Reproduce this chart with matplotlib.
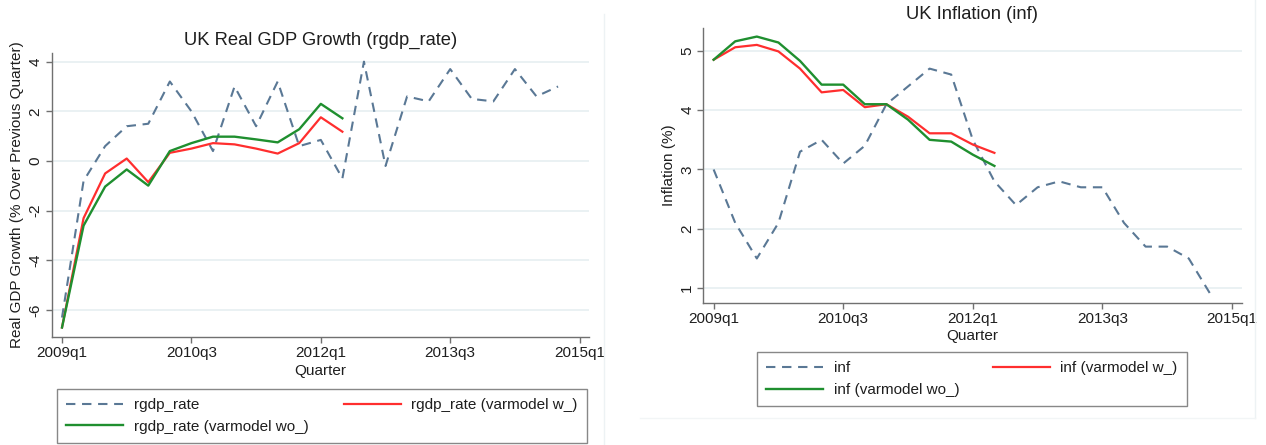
import numpy as np
import matplotlib.pyplot as plt
from matplotlib.lines import Line2D

plt.rcParams['font.family'] = ['Liberation Sans', 'DejaVu Sans']
plt.rcParams['axes.unicode_minus'] = False

# quarter index: 0 = 2009q1
tick_pos = [0, 6, 12, 18, 24]
tick_labels = ['2009q1', '2010q3', '2012q1', '2013q3', '2015q1']

rgdp_rate = [-6.3, -0.8, 0.6, 1.4, 1.5, 3.2, 2.0, 0.4, 3.0, 1.4, 3.2, 0.6,
             0.85, -0.7, 4.0, -0.2, 2.6, 2.4, 3.7, 2.5, 2.4, 3.7, 2.6, 3.0]
rgdp_w = [-6.7, -2.3, -0.5, 0.1, -0.85, 0.33, 0.5, 0.72, 0.67, 0.5, 0.3, 0.72, 1.76, 1.18]
rgdp_wo = [-6.7, -2.6, -1.03, -0.34, -0.99, 0.4, 0.72, 0.98, 0.98, 0.87, 0.75, 1.28, 2.3, 1.72]

inf = [3.0, 2.1, 1.5, 2.1, 3.3, 3.5, 3.1, 3.4, 4.1, 4.4, 4.7, 4.6,
       3.5, 2.8, 2.4, 2.7, 2.8, 2.7, 2.7, 2.1, 1.7, 1.7, 1.5, 0.9]
inf_w = [4.85, 5.06, 5.1, 4.99, 4.7, 4.3, 4.34, 4.05, 4.1, 3.89, 3.61, 3.61, 3.42, 3.28]
inf_wo = [4.85, 5.16, 5.24, 5.14, 4.83, 4.43, 4.43, 4.1, 4.1, 3.84, 3.5, 3.47, 3.25, 3.06]

c_dash = '#5a7895'
c_red = '#ff2e2e'
c_green = '#1f8f2f'
c_axis = '#707070'
c_grid = '#e6eff1'
c_text = '#1e1e1e'


def panel(ax, actual, w, wo, name, title, ylabel, yticks, ylim, title_pad, xlab_pad):
    ax.grid(axis='y', color=c_grid, lw=1.2)
    ax.set_axisbelow(True)
    q = np.arange(len(actual))
    d, = ax.plot(q, actual, color=c_dash, lw=1.5, ls=(0, (4.5, 3.2)), label=name)
    qm = np.arange(len(w))
    r, = ax.plot(qm, w, color=c_red, lw=1.6, label=name + ' (varmodel w_)')
    g, = ax.plot(qm, wo, color=c_green, lw=1.7, label=name + ' (varmodel wo_)')
    ax.set_xlim(-0.48, 24.45)
    ax.set_ylim(*ylim)
    ax.set_xticks(tick_pos)
    ax.set_xticklabels(tick_labels)
    ax.set_yticks(yticks)
    ax.set_yticklabels([str(t) for t in yticks], rotation=90, va='center')
    for s in ['top', 'right']:
        ax.spines[s].set_visible(False)
    for s in ['left', 'bottom']:
        ax.spines[s].set_color(c_axis)
        ax.spines[s].set_linewidth(1.0)
    ax.tick_params(colors=c_axis, labelcolor=c_text, labelsize=11, length=4.5, width=1.0, pad=2)
    ax.set_xlabel('Quarter', fontsize=11, color=c_text, labelpad=xlab_pad)
    ax.set_ylabel(ylabel, fontsize=11, color=c_text, labelpad=3)
    ax.set_title(title, fontsize=13.2, color=c_text, pad=title_pad)
    return [d, g, r]


fig = plt.figure(figsize=(12.66, 4.45), dpi=100)
fig.patch.set_facecolor('white')

ax1 = fig.add_axes([0.0408, 0.2434, 0.4247, 0.6382])
h1 = panel(ax1, rgdp_rate, rgdp_w, rgdp_wo, 'rgdp_rate', 'UK Real GDP Growth (rgdp_rate)',
           'Real GDP Growth (% Over Previous Quarter)', [-6, -4, -2, 0, 2, 4], (-7.07, 4.36), 5.5, 3)

ax2 = fig.add_axes([0.5555, 0.3198, 0.4253, 0.618])
h2 = panel(ax2, inf, inf_w, inf_wo, 'inf', 'UK Inflation (inf)',
           'Inflation (%)', [1, 2, 3, 4, 5], (0.755, 5.39), 6, 2.5)

for h, box in [(h1, (0.0452, 0.0031, 0.4183, 0.1234)), (h2, (0.5982, 0.0973, 0.3392, 0.111))]:
    leg = fig.legend(handles=h, labels=[x.get_label() for x in h], ncol=2, mode='expand',
                     loc='upper left', bbox_to_anchor=box, fontsize=11, frameon=True,
                     fancybox=False, handlelength=3.7, handletextpad=0.7, borderpad=0.6,
                     labelspacing=0.5, borderaxespad=0)
    leg.get_frame().set_edgecolor('#6a6a6a')
    leg.get_frame().set_linewidth(1.0)
    for t in leg.get_texts():
        t.set_color(c_text)

# faint outlines of the graph regions
fig.add_artist(Line2D([604 / 1266, 604 / 1266], [0, 1 - 14 / 445], color='#edf2f4', lw=1))
fig.add_artist(Line2D([1255 / 1266, 1255 / 1266], [1 - 418 / 445, 1], color='#edf2f4', lw=1))
fig.add_artist(Line2D([640 / 1266, 1255 / 1266], [1 - 418 / 445, 1 - 418 / 445], color='#f2f5f6', lw=1))

fig.savefig('out.png', dpi=100)
